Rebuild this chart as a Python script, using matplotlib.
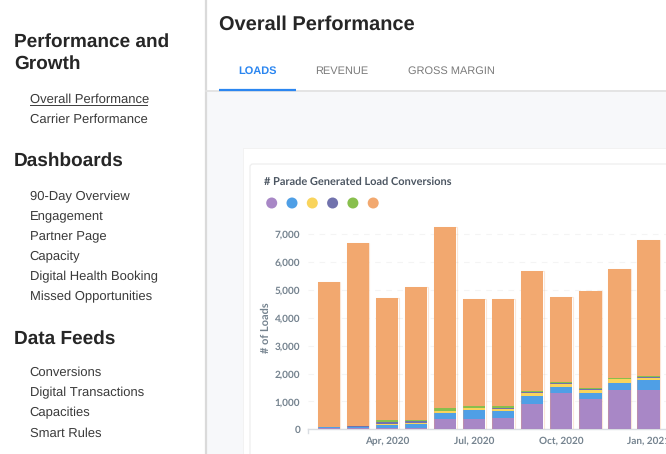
import matplotlib
matplotlib.use("Agg")
import matplotlib.pyplot as plt
from matplotlib.patches import Rectangle, FancyBboxPatch, Circle
import numpy as np

plt.rcParams["text.hinting"] = "no_hinting"
plt.rcParams["text.hinting_factor"] = 1

W, H = 666, 454

months = list(range(12))
tick_positions = [2, 5, 8, 11]
tick_labels = ["Apr, 2020", "Jul, 2020", "Oct, 2020", "Jan, 2021"]
y_ticks = [0, 1000, 2000, 3000, 4000, 5000, 6000, 7000]

purple = [30, 40, 50, 40, 360, 370, 410, 900, 1300, 1100, 1400, 1400]
blue = [40, 40, 110, 160, 240, 320, 240, 310, 220, 190, 260, 360]
yellow = [0, 0, 30, 30, 40, 70, 70, 110, 110, 120, 130, 90]
indigo = [20, 40, 90, 60, 30, 20, 50, 30, 30, 20, 30, 30]
green = [0, 0, 50, 40, 90, 70, 50, 40, 30, 40, 30, 50]
orange = [5210, 6560, 4390, 4770, 6520, 3840, 3850, 4290, 3060, 3510, 3890, 4860]

series = [purple, blue, yellow, indigo, green, orange]
colors = ["#a887c6", "#4f9fe6", "#f9d45c", "#7172ad", "#88bf4d", "#f2a86f"]

sidebar_sections = [
    ("Performance and\nGrowth", 53, ["Overall Performance", "Carrier Performance"], [99, 119]),
    ("Dashboards", 160, ["90-Day Overview", "Engagement", "Partner Page", "Capacity",
                         "Digital Health Booking", "Missed Opportunities"],
     [195.5, 216, 236, 256, 276, 296]),
    ("Data Feeds", 338, ["Conversions", "Digital Transactions", "Capacities", "Smart Rules"],
     [372, 392, 412, 432.5]),
]

fig = plt.figure(figsize=(W / 100, H / 100), dpi=100, facecolor="white")
bg = fig.add_axes([0, 0, 1, 1])
bg.set_xlim(0, W)
bg.set_ylim(H, 0)
bg.axis("off")

UI = ["Liberation Sans", "DejaVu Sans"]
CH = ["Lato", "DejaVu Sans"]

# panels
bg.add_patch(Rectangle((206, 91), W - 206, H - 91, fc="#f7f8fa", ec="none"))
bg.add_patch(Rectangle((243, 148), W - 243 + 5, H - 148 + 5, fc="#ffffff", ec="#f1f1f1", lw=0.6))
bg.add_patch(FancyBboxPatch((250, 164), W + 20 - 250, H + 20 - 164,
                            boxstyle="round,pad=0,rounding_size=3",
                            fc="white", ec="#eeeeee", lw=0.9))
bg.plot([205.5, 205.5], [0, H], color="#dadada", lw=1.6)
bg.plot([206, W], [90.5, 90.5], color="#e2e2e2", lw=1.3)
bg.plot([219, 296], [89.7, 89.7], color="#2b86f0", lw=1.6, solid_capstyle="butt")

# header
bg.text(219, 25, "Overall Performance", fontsize=14.2, fontweight="bold", family=UI,
        color="#262626", va="center")
for x, t, c in [(257.5, "LOADS", "#2b86f0"), (342, "REVENUE", "#7b7b7b"), (451.5, "GROSS MARGIN", "#7b7b7b")]:
    bg.text(x, 71.5, t, fontsize=8.2, family=UI, color=c, ha="center", va="center",
            fontweight="bold" if t == "LOADS" else "normal")

# sidebar
for head, hy, items, ys in sidebar_sections:
    bg.text(14, hy + (0 if "\n" in head else 1), head, fontsize=14.0, fontweight="bold", family=UI,
            color="#262626", va="center", linespacing=1.32)
    for it, y in zip(items, ys):
        bg.text(29.5, y + 1, it, fontsize=9.0, family=UI, color="#3a3a3a", va="center")
bg.plot([29.5, 147], [104.6, 104.6], color="#3a3a3a", lw=0.7)

# chart title and legend
bg.text(263.5, 182, "# Parade Generated Load Conversions", fontsize=7.6, fontweight="bold",
        family=CH, color="#4c5662", va="center")
for cx, c in zip([271.7, 292, 312.3, 332.6, 352.9, 373.2], colors):
    bg.add_patch(Circle((cx, 203), 5.5, fc=c, ec="none"))

# chart axes (pixel-aligned)
left, right, top, bottom = 307.7, 666.0, 220.0, 429.3
ax = fig.add_axes([left / W, 1 - bottom / H, (right - left) / W, (bottom - top) / H])
ax.patch.set_alpha(0)
x0, dx = 329.0, 29.03
ax.set_xlim((left - x0) / dx, (right - x0) / dx)
per_unit = (429.3 - 234.3) / 7000
ax.set_ylim(0, (bottom - top) / per_unit)

bottoms = np.zeros(12)
for vals, c in zip(series, colors):
    ax.bar(months, vals, width=0.775, bottom=bottoms, color=c, linewidth=0, zorder=3)
    bottoms += np.array(vals)
ax.bar(months, bottoms, width=0.79, fill=False, edgecolor="#f2a86f44", linewidth=0.8, zorder=4)

ax.set_yticks(y_ticks)
ax.set_yticklabels([f"{v:,}" for v in y_ticks], fontsize=7.2, fontweight="bold",
                   family=CH, color="#75838f")
ax.set_xticks(tick_positions)
ax.set_xticklabels(tick_labels, fontsize=7.2, fontweight="bold", family=CH, color="#75838f")
ax.tick_params(axis="y", length=0, pad=5.5)
ax.tick_params(axis="x", length=0, pad=5)
ax.grid(axis="y", color="#f4f4f4", lw=0.8, ls=(0, (5, 5)), zorder=0)
for s in ["top", "right", "left"]:
    ax.spines[s].set_visible(False)
ax.spines["bottom"].set_color("#d9dde2")
ax.spines["bottom"].set_linewidth(1.0)
bg.plot([307.7, 307.7], [429.3, 433], color="#d9dde2", lw=1.0)
bg.text(265.5, 327.5, "# of Loads", rotation=90, fontsize=7.8, fontweight="bold", family=CH,
        color="#75838f", ha="center", va="center")

fig.savefig("out.png", dpi=100, facecolor="white")
